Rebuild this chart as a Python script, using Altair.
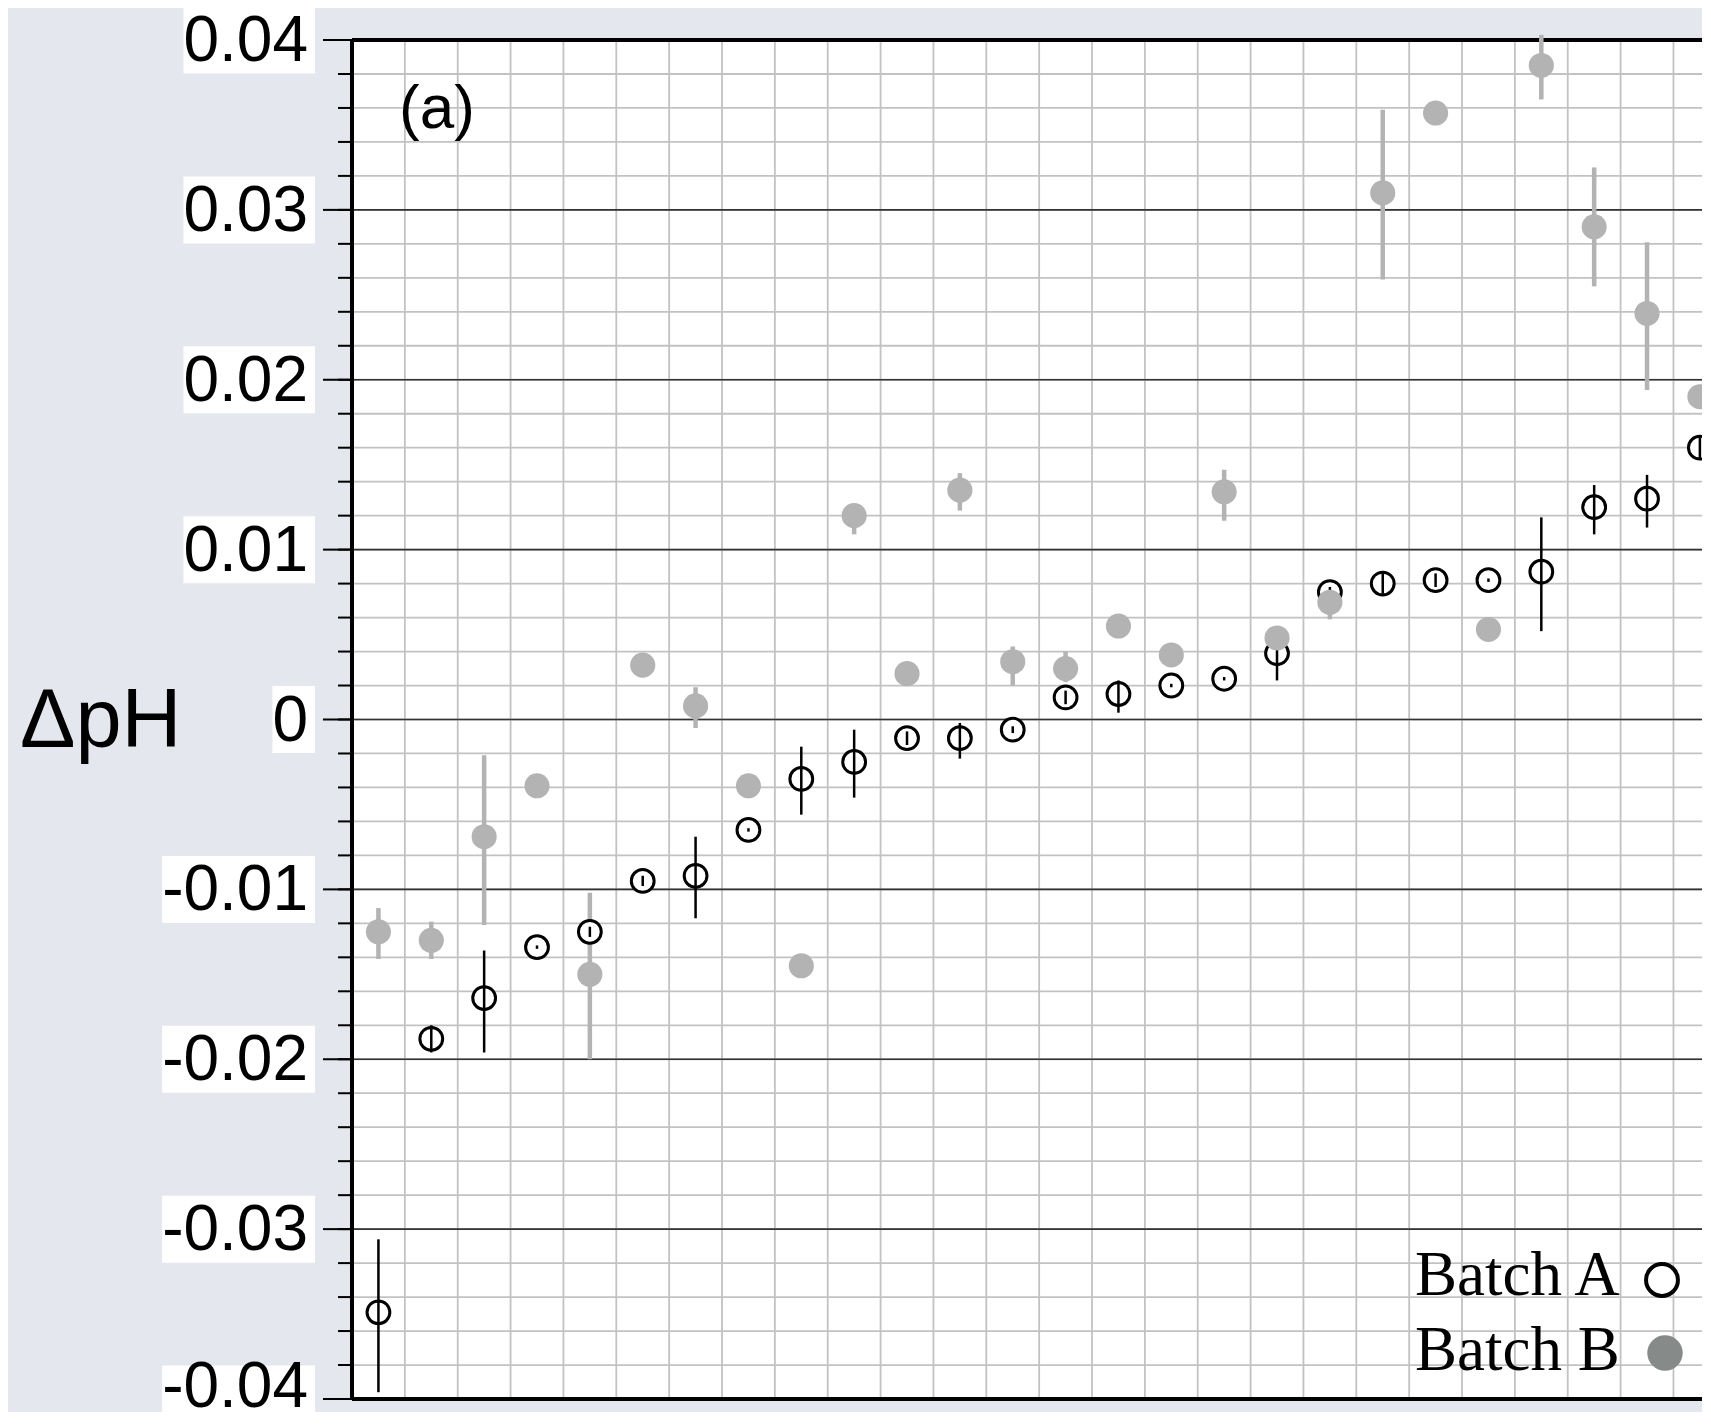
import altair as alt
import pandas as pd

# ---------------- data ----------------
idx = list(range(26))

a_val = [-0.0349, -0.0188, -0.0164, -0.0134, -0.0125, -0.0095, -0.0092, -0.0065, -0.0035, -0.0025,
         -0.0011, -0.0011, -0.0006, 0.0013, 0.0015, 0.0020, 0.0024, 0.0039, 0.0075, 0.0080,
         0.0082, 0.0082, 0.0087, 0.0125, 0.0130, 0.0160]
a_lo = [-0.0396, -0.0196, -0.0196, -0.0135, -0.0128, -0.0098, -0.0117, -0.0066, -0.0056, -0.0046,
        -0.0015, -0.0023, -0.0008, 0.0009, 0.0004, 0.0019, 0.0023, 0.0023, 0.0072, 0.0074,
        0.0078, 0.0081, 0.0052, 0.0109, 0.0113, 0.0154]
a_hi = [-0.0306, -0.0180, -0.0136, -0.0133, -0.0122, -0.0092, -0.0069, -0.0064, -0.0016, -0.0006,
        -0.0007, -0.0002, -0.0004, 0.0017, 0.0023, 0.0021, 0.0025, 0.0054, 0.0078, 0.0086,
        0.0086, 0.0083, 0.0119, 0.0138, 0.0144, 0.0166]

b_val = [-0.0125, -0.0130, -0.0069, -0.0039, -0.0150, 0.0032, 0.0008, -0.0039, -0.0145, 0.0120,
         0.0027, 0.0135, 0.0034, 0.0030, 0.0055, 0.0038, 0.0134, 0.0048, 0.0069, 0.0310,
         0.0357, 0.0053, 0.0385, 0.0290, 0.0239, 0.0190]
b_lo = [-0.0141, -0.0141, -0.0121, -0.0042, -0.0200, 0.0028, -0.0005, -0.0042, -0.0148, 0.0109,
        0.0024, 0.0123, 0.0020, 0.0022, 0.0052, 0.0035, 0.0117, 0.0043, 0.0059, 0.0259,
        0.0352, 0.0050, 0.0365, 0.0255, 0.0194, 0.0187]
b_hi = [-0.0111, -0.0119, -0.0021, -0.0036, -0.0102, 0.0036, 0.0019, -0.0036, -0.0142, 0.0127,
        0.0030, 0.0145, 0.0043, 0.0040, 0.0058, 0.0041, 0.0147, 0.0053, 0.0078, 0.0359,
        0.0362, 0.0056, 0.0403, 0.0325, 0.0281, 0.0193]

y_ticks = [0.04, 0.03, 0.02, 0.01, 0.0, -0.01, -0.02, -0.03, -0.04]
y_tick_labels = ["0.04", "0.03", "0.02", "0.01", "0", "-0.01", "-0.02", "-0.03", "-0.04"]
y_minor = [round(-0.04 + 0.002 * k, 3) for k in range(41)]
x_grid = [i - 0.5 for i in range(26)]
legend_labels = ["Batch A", "Batch B"]
panel_label = "(a)"
y_title = "ΔpH"

# ---------------- layout / style ----------------
W, H = 1350, 1359
XDOM = [-0.5, 25.04]
YDOM = [-0.04, 0.04]
LABEL_FS = 64
SANS = "Liberation Sans"
SERIF = "Liberation Serif"
GRID_GRAY = "#c2c2c2"
B_GRAY = "#b3b3b3"

xs = alt.Scale(domain=XDOM, nice=False, zero=False)
ys = alt.Scale(domain=YDOM, nice=False, zero=False)

pts = pd.DataFrame({"i": idx, "a": a_val, "alo": a_lo, "ahi": a_hi,
                    "b": b_val, "blo": b_lo, "bhi": b_hi})

# Arial-like advance widths to size the white boxes behind tick labels
cw = {"0": 0.556, "1": 0.556, "2": 0.556, "3": 0.556, "4": 0.556, ".": 0.278, "-": 0.333}
lab = pd.DataFrame({"v": y_ticks, "t": y_tick_labels})
lab["bx"] = [-44 - LABEL_FS * sum(cw[c] for c in s) for s in y_tick_labels]

X = lambda f: alt.X(f, type="quantitative", scale=xs, axis=None)
Y = lambda f: alt.Y(f, type="quantitative", scale=ys, axis=None)

vgrid = alt.Chart(pd.DataFrame({"x": x_grid[1:]})).mark_rule(
    color=GRID_GRAY, strokeWidth=1.8).encode(x=X("x"))

hminor = alt.Chart(pd.DataFrame({"v": y_minor})).mark_rule(
    color=GRID_GRAY, strokeWidth=1.8).encode(y=Y("v"))

majors_inner = pd.DataFrame({"v": y_ticks[1:-1]})
hmajor = alt.Chart(majors_inner).mark_rule(color="#333333", strokeWidth=1.6).encode(y=Y("v"))

borders = alt.Chart(pd.DataFrame({"v": [y_ticks[0], y_ticks[-1]]})).mark_rule(
    color="black", strokeWidth=4).encode(y=Y("v"))
left_axis = alt.Chart(pd.DataFrame({"x": [x_grid[0]]})).mark_rule(
    color="black", strokeWidth=4).encode(x=X("x"))

minor_ticks = alt.Chart(pd.DataFrame({"v": y_minor})).mark_rule(
    color="black", strokeWidth=2).encode(y=Y("v"), x=alt.value(-14), x2=alt.value(0))
major_ticks = alt.Chart(lab).mark_rule(color="black", strokeWidth=2).encode(
    y=Y("v"), x=alt.value(-29), x2=alt.value(0))

boxes = alt.Chart(lab).mark_rect(color="white", height=67).encode(
    y=Y("v"), x=alt.X("bx:Q", scale=None), x2=alt.value(-37))
labels = alt.Chart(lab.iloc[:-1]).mark_text(
    align="right", baseline="middle", font=SANS, fontSize=LABEL_FS, color="black", dy=2).encode(
    y=Y("v"), x=alt.value(-44), text="t:N")
# the bottom label is nudged up so that it stays inside the picture
label_bottom = alt.Chart(lab.iloc[-1:]).mark_text(
    align="right", baseline="middle", font=SANS, fontSize=LABEL_FS, color="black", dy=-11).encode(
    y=Y("v"), x=alt.value(-44), text="t:N")

title = alt.Chart(pd.DataFrame({"t": [y_title]})).mark_text(
    align="left", baseline="alphabetic", font=SANS, fontSize=83, color="black").encode(
    x=alt.value(-332), y=alt.value(707), text="t:N")

b_err = alt.Chart(pts).mark_rule(color=B_GRAY, strokeWidth=4.5).encode(
    x=X("i"), y=Y("blo"), y2="bhi")
a_pts = alt.Chart(pts).mark_point(
    shape="circle", fill="white", stroke="black", strokeWidth=3, size=520, opacity=1,
    filled=False).encode(x=X("i"), y=Y("a"))
a_err = alt.Chart(pts).mark_rule(color="black", strokeWidth=2.5).encode(
    x=X("i"), y=Y("alo"), y2="ahi")
b_pts = alt.Chart(pts).mark_circle(color=B_GRAY, size=630, opacity=1).encode(
    x=X("i"), y=Y("b"))

panel = alt.Chart(pd.DataFrame({"t": [panel_label]})).mark_text(
    align="left", baseline="alphabetic", font=SANS, fontSize=62, color="black").encode(
    x=alt.value(47), y=alt.value(88), text="t:N")

legA_t = alt.Chart(pd.DataFrame({"t": [legend_labels[0]]})).mark_text(
    align="left", baseline="alphabetic", font=SERIF, fontSize=63, color="black").encode(
    x=alt.value(1063), y=alt.value(1255), text="t:N")
legB_t = alt.Chart(pd.DataFrame({"t": [legend_labels[1]]})).mark_text(
    align="left", baseline="alphabetic", font=SERIF, fontSize=63, color="black").encode(
    x=alt.value(1063), y=alt.value(1330), text="t:N")
legA_s = alt.Chart(pd.DataFrame({"t": [legend_labels[0]]})).mark_point(
    shape="circle", fill="white", stroke="black", strokeWidth=4, size=1018, opacity=1,
    filled=False).encode(x=alt.value(1310), y=alt.value(1240))
legB_s = alt.Chart(pd.DataFrame({"t": [legend_labels[1]]})).mark_circle(
    color="#868a88", size=1257, opacity=1).encode(x=alt.value(1313), y=alt.value(1313))

chart = alt.layer(
    vgrid, hminor, hmajor, borders, left_axis, minor_ticks, major_ticks, boxes, labels,
    label_bottom, title,
    b_err, a_pts, a_err, b_pts, panel, legA_t, legB_t, legA_s, legB_s
).properties(
    width=W, height=H,
    autosize=alt.AutoSizeParams(type="none"),
    padding={"left": 344, "top": 32, "right": 0, "bottom": 13},
    background="#e4e7ed",
).configure_view(fill="white", stroke=None)

chart.save("out.html", embed_options={"renderer": "svg", "actions": False})
